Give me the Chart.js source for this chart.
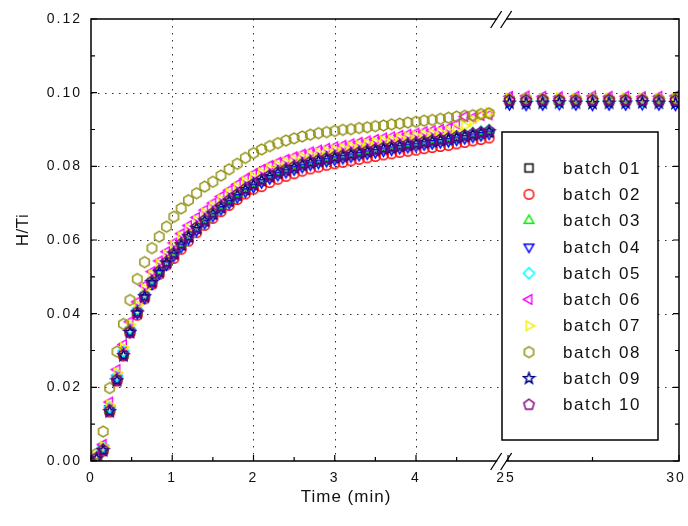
<!DOCTYPE html>
<html>
<head>
<meta charset="utf-8">
<script src="https://cdn.jsdelivr.net/npm/chart.js@4.4.1/dist/chart.umd.min.js"></script>
<style>
  html, body { margin: 0; padding: 0; background: #fff; }
  #wrap { width: 688px; height: 526px; }
</style>
</head>
<body>
<div id="wrap"><canvas id="chart" width="688" height="526"></canvas></div>
<script>
// time points (min)
const timesLeft = [0.07, 0.15, 0.23, 0.32, 0.40, 0.48, 0.57, 0.66, 0.75, 0.84, 0.93, 1.02, 1.11, 1.20, 1.30, 1.40, 1.50,
  1.60, 1.70, 1.80, 1.90, 2.00, 2.10, 2.20, 2.30, 2.40, 2.50, 2.60, 2.70, 2.80, 2.90, 3.00, 3.10, 3.20, 3.30, 3.40,
  3.50, 3.60, 3.70, 3.80, 3.90, 4.00, 4.10, 4.20, 4.30, 4.40, 4.50, 4.60, 4.70, 4.80, 4.90];
const timesRight = [25.1, 25.58, 26.06, 26.54, 27.02, 27.5, 27.98, 28.46, 28.94, 29.42, 29.9];

// H/Ti values, left part of the axis (0 - 5 min)
const b01Left = [0.0007, 0.0031, 0.0138, 0.0222, 0.0290, 0.0352, 0.0404, 0.0447, 0.0485, 0.0513, 0.0537, 0.0561, 0.0585, 0.0607, 0.0630, 0.0650, 0.0669, 0.0687, 0.0704, 0.0720, 0.0735, 0.0748, 0.0760, 0.0771, 0.0780, 0.0788, 0.0795, 0.0802, 0.0808, 0.0813, 0.0818, 0.0822, 0.0826, 0.0830, 0.0834, 0.0838, 0.0842, 0.0846, 0.0849, 0.0853, 0.0856, 0.0859, 0.0863, 0.0866, 0.0869, 0.0872, 0.0876, 0.0880, 0.0884, 0.0888, 0.0892];
const b02Left = [0.0005, 0.0027, 0.0133, 0.0217, 0.0285, 0.0348, 0.0396, 0.0440, 0.0479, 0.0507, 0.0532, 0.0550, 0.0575, 0.0597, 0.0620, 0.0640, 0.0659, 0.0677, 0.0694, 0.0710, 0.0725, 0.0738, 0.0745, 0.0756, 0.0765, 0.0773, 0.0780, 0.0787, 0.0793, 0.0798, 0.0803, 0.0807, 0.0811, 0.0815, 0.0819, 0.0823, 0.0827, 0.0831, 0.0834, 0.0838, 0.0841, 0.0844, 0.0848, 0.0851, 0.0854, 0.0857, 0.0861, 0.0865, 0.0869, 0.0873, 0.0877];
const b03Left = [0.0009, 0.0033, 0.0140, 0.0224, 0.0292, 0.0354, 0.0407, 0.0451, 0.0490, 0.0518, 0.0543, 0.0567, 0.0591, 0.0613, 0.0636, 0.0656, 0.0675, 0.0693, 0.0710, 0.0726, 0.0741, 0.0754, 0.0766, 0.0777, 0.0786, 0.0794, 0.0801, 0.0808, 0.0814, 0.0819, 0.0824, 0.0828, 0.0832, 0.0836, 0.0840, 0.0844, 0.0848, 0.0852, 0.0855, 0.0859, 0.0862, 0.0865, 0.0869, 0.0872, 0.0875, 0.0878, 0.0882, 0.0886, 0.0890, 0.0894, 0.0898];
const b04Left = [0.0010, 0.0035, 0.0142, 0.0225, 0.0291, 0.0350, 0.0401, 0.0443, 0.0481, 0.0509, 0.0533, 0.0557, 0.0581, 0.0603, 0.0626, 0.0646, 0.0665, 0.0683, 0.0700, 0.0716, 0.0731, 0.0744, 0.0756, 0.0767, 0.0776, 0.0784, 0.0791, 0.0798, 0.0804, 0.0809, 0.0814, 0.0818, 0.0822, 0.0826, 0.0830, 0.0834, 0.0838, 0.0842, 0.0845, 0.0849, 0.0852, 0.0855, 0.0859, 0.0862, 0.0865, 0.0868, 0.0872, 0.0876, 0.0880, 0.0884, 0.0888];
const b05Left = [0.0011, 0.0038, 0.0145, 0.0230, 0.0297, 0.0358, 0.0410, 0.0452, 0.0490, 0.0518, 0.0542, 0.0566, 0.0590, 0.0612, 0.0635, 0.0655, 0.0674, 0.0692, 0.0709, 0.0725, 0.0740, 0.0753, 0.0765, 0.0776, 0.0785, 0.0793, 0.0800, 0.0807, 0.0813, 0.0818, 0.0823, 0.0827, 0.0831, 0.0835, 0.0839, 0.0843, 0.0847, 0.0851, 0.0854, 0.0858, 0.0861, 0.0864, 0.0868, 0.0871, 0.0874, 0.0877, 0.0881, 0.0885, 0.0889, 0.0893, 0.0897];
const b06Left = [0.0012, 0.0045, 0.0160, 0.0248, 0.0316, 0.0378, 0.0432, 0.0476, 0.0514, 0.0543, 0.0568, 0.0592, 0.0617, 0.0639, 0.0661, 0.0681, 0.0700, 0.0718, 0.0735, 0.0751, 0.0766, 0.0779, 0.0791, 0.0802, 0.0811, 0.0819, 0.0826, 0.0833, 0.0839, 0.0844, 0.0849, 0.0853, 0.0857, 0.0861, 0.0865, 0.0869, 0.0873, 0.0877, 0.0880, 0.0884, 0.0887, 0.0890, 0.0894, 0.0897, 0.0900, 0.0904, 0.0915, 0.0935, 0.0932, 0.0938, 0.0940];
const b07Left = [0.0010, 0.0040, 0.0152, 0.0240, 0.0308, 0.0370, 0.0424, 0.0468, 0.0506, 0.0535, 0.0560, 0.0584, 0.0609, 0.0631, 0.0653, 0.0673, 0.0692, 0.0710, 0.0727, 0.0743, 0.0758, 0.0771, 0.0783, 0.0794, 0.0803, 0.0811, 0.0818, 0.0825, 0.0831, 0.0836, 0.0841, 0.0845, 0.0849, 0.0853, 0.0857, 0.0861, 0.0865, 0.0869, 0.0872, 0.0876, 0.0879, 0.0882, 0.0886, 0.0889, 0.0892, 0.0896, 0.0902, 0.0910, 0.0925, 0.0940, 0.0946];
const b08Left = [0.0020, 0.0080, 0.0198, 0.0297, 0.0372, 0.0437, 0.0494, 0.0540, 0.0578, 0.0609, 0.0636, 0.0663, 0.0686, 0.0708, 0.0727, 0.0745, 0.0758, 0.0775, 0.0792, 0.0807, 0.0823, 0.0836, 0.0846, 0.0855, 0.0863, 0.0870, 0.0876, 0.0881, 0.0886, 0.0890, 0.0893, 0.0896, 0.0899, 0.0901, 0.0904, 0.0906, 0.0909, 0.0911, 0.0914, 0.0916, 0.0919, 0.0921, 0.0924, 0.0926, 0.0929, 0.0932, 0.0935, 0.0937, 0.0939, 0.0942, 0.0944];
const b09Left = [0.0006, 0.0028, 0.0134, 0.0218, 0.0286, 0.0349, 0.0402, 0.0446, 0.0485, 0.0513, 0.0538, 0.0562, 0.0587, 0.0609, 0.0632, 0.0652, 0.0671, 0.0689, 0.0706, 0.0722, 0.0737, 0.0750, 0.0762, 0.0773, 0.0782, 0.0790, 0.0797, 0.0804, 0.0810, 0.0815, 0.0820, 0.0824, 0.0828, 0.0832, 0.0836, 0.0840, 0.0844, 0.0848, 0.0851, 0.0855, 0.0858, 0.0861, 0.0865, 0.0868, 0.0871, 0.0874, 0.0878, 0.0882, 0.0886, 0.0890, 0.0894];
const b10Left = [0.0008, 0.0030, 0.0136, 0.0220, 0.0288, 0.0351, 0.0404, 0.0448, 0.0487, 0.0515, 0.0540, 0.0564, 0.0589, 0.0611, 0.0634, 0.0654, 0.0673, 0.0691, 0.0708, 0.0724, 0.0739, 0.0752, 0.0764, 0.0775, 0.0784, 0.0792, 0.0799, 0.0806, 0.0812, 0.0817, 0.0822, 0.0826, 0.0830, 0.0834, 0.0838, 0.0842, 0.0846, 0.0850, 0.0853, 0.0857, 0.0860, 0.0863, 0.0867, 0.0870, 0.0873, 0.0876, 0.0880, 0.0884, 0.0888, 0.0892, 0.0896];

// H/Ti values, right part of the axis (25 - 30 min)
const b01Right = [0.0978, 0.0977, 0.0978, 0.0979, 0.0978, 0.0977, 0.0978, 0.0978, 0.0979, 0.0978, 0.0977];
const b02Right = [0.0976, 0.0975, 0.0976, 0.0976, 0.0977, 0.0976, 0.0975, 0.0976, 0.0976, 0.0977, 0.0976];
const b03Right = [0.0979, 0.0980, 0.0979, 0.0978, 0.0979, 0.0980, 0.0979, 0.0979, 0.0978, 0.0979, 0.0980];
const b04Right = [0.0968, 0.0967, 0.0968, 0.0969, 0.0968, 0.0967, 0.0968, 0.0968, 0.0969, 0.0968, 0.0967];
const b05Right = [0.0977, 0.0978, 0.0977, 0.0976, 0.0977, 0.0978, 0.0977, 0.0977, 0.0976, 0.0977, 0.0978];
const b06Right = [0.0990, 0.0991, 0.0990, 0.0989, 0.0990, 0.0991, 0.0990, 0.0990, 0.0989, 0.0990, 0.0991];
const b07Right = [0.0985, 0.0984, 0.0985, 0.0986, 0.0985, 0.0984, 0.0985, 0.0985, 0.0986, 0.0985, 0.0984];
const b08Right = [0.0982, 0.0983, 0.0982, 0.0981, 0.0982, 0.0983, 0.0982, 0.0982, 0.0981, 0.0982, 0.0983];
const b09Right = [0.0972, 0.0971, 0.0972, 0.0973, 0.0972, 0.0971, 0.0972, 0.0972, 0.0973, 0.0972, 0.0971];
const b10Right = [0.0979, 0.0979, 0.0980, 0.0979, 0.0978, 0.0979, 0.0980, 0.0979, 0.0979, 0.0978, 0.0979];

const seriesNames = ['batch 01', 'batch 02', 'batch 03', 'batch 04', 'batch 05', 'batch 06', 'batch 07', 'batch 08', 'batch 09', 'batch 10'];
const seriesColors = ['#000000', '#ff0000', '#00ee00', '#0000ff', '#00ffff', '#ff00ff', '#f0f000', '#8f8f10', '#000080', '#800080'];
const seriesShapes = ['square', 'circle', 'triUp', 'triDown', 'diamond', 'triLeft', 'triRight', 'hexagon', 'star', 'pentagon'];
const leftValues = [b01Left, b02Left, b03Left, b04Left, b05Left, b06Left, b07Left, b08Left, b09Left, b10Left];
const rightValues = [b01Right, b02Right, b03Right, b04Right, b05Right, b06Right, b07Right, b08Right, b09Right, b10Right];

// axis ticks
const xTickValues = [0, 1, 2, 3, 4, 25, 30];
const xTickLabels = ['0', '1', '2', '3', '4', '25', '30 '];
const xMinorTicks = [0.5, 1.5, 2.5, 3.5, 4.5, 27.5];
const xGridValues = [1, 2, 3, 4];
const yTickValues = [0, 0.02, 0.04, 0.06, 0.08, 0.10, 0.12];
const yTickLabels = ['0.00', '0.02', '0.04', '0.06', '0.08', '0.10', '0.12'];
const yMinorTicks = [0.01, 0.03, 0.05, 0.07, 0.09, 0.11];
const yGridValues = [0.02, 0.04, 0.06, 0.08, 0.10];

// broken x axis: 0..5 at full scale, 25..30 compressed after a small gap
const BREAK_LO = 5, BREAK_HI = 25, GAP = 0.108, RIGHT_K = 0.4258;
function toAxis(t) {
  return t <= BREAK_LO ? t : BREAK_LO + GAP + (t - BREAK_HI) * RIGHT_K;
}

function makeMarker(shape, color) {
  const c = document.createElement('canvas');
  c.width = 15; c.height = 15;
  const g = c.getContext('2d');
  g.strokeStyle = color;
  g.lineWidth = 1.45;
  const cx = 7.5, cy = 7.5;
  const poly = (n, r, start) => {
    g.beginPath();
    for (let k = 0; k < n; k++) {
      const a = (start + k * 360 / n) * Math.PI / 180;
      const px = cx + r * Math.cos(a), py = cy + r * Math.sin(a);
      k ? g.lineTo(px, py) : g.moveTo(px, py);
    }
    g.closePath();
    g.stroke();
  };
  if (shape === 'square') g.strokeRect(cx - 4, cy - 4, 8, 8);
  else if (shape === 'circle') { g.beginPath(); g.arc(cx, cy, 4.8, 0, Math.PI * 2); g.stroke(); }
  else if (shape === 'triUp') poly(3, 5.6, -90);
  else if (shape === 'triDown') poly(3, 5.6, 90);
  else if (shape === 'triLeft') poly(3, 5.6, 180);
  else if (shape === 'triRight') poly(3, 5.6, 0);
  else if (shape === 'diamond') poly(4, 5.6, 0);
  else if (shape === 'hexagon') poly(6, 5.4, -90);
  else if (shape === 'pentagon') poly(5, 5.5, -90);
  else if (shape === 'star') {
    g.beginPath();
    for (let k = 0; k < 10; k++) {
      const r = k % 2 ? 2.4 : 5.8;
      const a = (-90 + k * 36) * Math.PI / 180;
      const px = cx + r * Math.cos(a), py = cy + r * Math.sin(a);
      k ? g.lineTo(px, py) : g.moveTo(px, py);
    }
    g.closePath();
    g.stroke();
  }
  return c;
}

const markers = seriesShapes.map((s, i) => makeMarker(s, seriesColors[i]));

const datasets = seriesNames.map((name, i) => ({
  label: name,
  data: timesLeft.map((t, j) => ({ x: toAxis(t), y: leftValues[i][j] }))
    .concat(timesRight.map((t, j) => ({ x: toAxis(t), y: rightValues[i][j] }))),
  pointStyle: markers[i],
  pointRadius: 5,
  showLine: false,
  order: seriesNames.length - i
}));

const FONT = '"Liberation Sans", Arial, sans-serif';

const framePlugin = {
  id: 'frame',
  beforeDraw(chart) {
    chart.ctx.letterSpacing = '2px';
  },
  beforeDatasetsDraw(chart) {
    const { ctx, chartArea: a, scales: { x, y } } = chart;
    ctx.save();
    ctx.letterSpacing = '0px';
    ctx.strokeStyle = '#333';
    ctx.lineWidth = 1;
    ctx.setLineDash([1.5, 5.5]);
    ctx.beginPath();
    xGridValues.forEach(v => {
      const px = Math.round(x.getPixelForValue(toAxis(v))) + 0.5;
      ctx.moveTo(px, a.top);
      ctx.lineTo(px, a.bottom);
    });
    yGridValues.forEach(v => {
      const py = Math.round(y.getPixelForValue(v)) + 0.5;
      ctx.moveTo(a.left, py);
      ctx.lineTo(a.right, py);
    });
    ctx.stroke();
    ctx.restore();
  },
  afterDatasetsDraw(chart) {
    const { ctx, chartArea: a, scales: { x, y } } = chart;
    ctx.save();
    ctx.letterSpacing = '0px';
    ctx.strokeStyle = '#000';
    ctx.lineWidth = 1.5;
    const bl = x.getPixelForValue(toAxis(BREAK_LO));
    const bh = x.getPixelForValue(toAxis(BREAK_HI));

    // frame with gap at the break
    ctx.beginPath();
    ctx.moveTo(bl, a.top); ctx.lineTo(a.left, a.top); ctx.lineTo(a.left, a.bottom); ctx.lineTo(bl, a.bottom);
    ctx.moveTo(bh, a.top); ctx.lineTo(a.right, a.top); ctx.lineTo(a.right, a.bottom); ctx.lineTo(bh, a.bottom);
    ctx.stroke();

    // inward ticks
    ctx.lineWidth = 1.2;
    ctx.beginPath();
    yTickValues.forEach(v => {
      const py = y.getPixelForValue(v);
      ctx.moveTo(a.left, py); ctx.lineTo(a.left + 6, py);
      ctx.moveTo(a.right, py); ctx.lineTo(a.right - 6, py);
    });
    yMinorTicks.forEach(v => {
      const py = y.getPixelForValue(v);
      ctx.moveTo(a.left, py); ctx.lineTo(a.left + 4, py);
      ctx.moveTo(a.right, py); ctx.lineTo(a.right - 4, py);
    });
    xTickValues.forEach(v => {
      const px = x.getPixelForValue(toAxis(v)) + (v === BREAK_HI ? 2 : 0);
      ctx.moveTo(px, a.bottom); ctx.lineTo(px, a.bottom - 6);
    });
    xMinorTicks.forEach(v => {
      const px = x.getPixelForValue(toAxis(v));
      ctx.moveTo(px, a.bottom); ctx.lineTo(px, a.bottom - 4);
    });
    ctx.stroke();

    // break marks
    const bm = (bl + bh) / 2;
    ctx.lineWidth = 1.3;
    ctx.beginPath();
    [a.top, a.bottom].forEach(yy => {
      ctx.moveTo(bm - 11, yy + 9); ctx.lineTo(bm, yy - 8);
      ctx.moveTo(bm - 1, yy + 9); ctx.lineTo(bm + 10, yy - 8);
    });
    ctx.stroke();

    // legend box
    const lx = 502, ly = 132, lw = 156, lh = 308;
    ctx.fillStyle = '#fff';
    ctx.fillRect(lx, ly, lw, lh);
    ctx.lineWidth = 1.5;
    ctx.strokeRect(lx, ly, lw, lh);
    ctx.font = '17px ' + FONT;
    ctx.letterSpacing = '1.6px';
    ctx.fillStyle = '#111';
    ctx.textBaseline = 'middle';
    ctx.textAlign = 'left';
    seriesNames.forEach((n, i) => {
      const yy = 168 + i * 26.3;
      ctx.drawImage(markers[i], 529 - 7.5, yy - 7.5);
      ctx.fillText(n, 563, yy + 1);
    });

    // axis titles
    ctx.letterSpacing = '1px';
    ctx.textAlign = 'center';
    ctx.fillText('Time (min)', 346, 497);
    ctx.translate(23, 230);
    ctx.rotate(-Math.PI / 2);
    ctx.letterSpacing = '0.5px';
    ctx.fillText('H/Ti', 0, 0);
    ctx.restore();
  }
};

new Chart(document.getElementById('chart'), {
  type: 'scatter',
  data: { datasets },
  options: {
    responsive: false,
    animation: false,
    events: [],
    layout: { padding: { left: 0, top: 19, right: 9, bottom: 0 } },
    plugins: { legend: { display: false }, tooltip: { enabled: false } },
    scales: {
      x: {
        type: 'linear',
        min: 0,
        max: toAxis(30),
        grid: { display: false, drawTicks: false },
        border: { display: false },
        afterBuildTicks: s => { s.ticks = xTickValues.map(v => ({ value: toAxis(v) })); },
        afterFit: s => { s.height = 65; s.paddingLeft = 0; s.paddingRight = 0; },
        ticks: {
          autoSkip: false,
          maxRotation: 0,
          padding: 9,
          color: '#111',
          font: { family: FONT, size: 14 },
          callback: (v, i) => xTickLabels[i]
        }
      },
      y: {
        min: 0,
        max: 0.12,
        grid: { display: false, drawTicks: false },
        border: { display: false },
        afterBuildTicks: s => { s.ticks = yTickValues.map(v => ({ value: v })); },
        afterFit: s => { s.width = 91; s.paddingTop = 0; s.paddingBottom = 0; },
        ticks: {
          padding: 9,
          color: '#111',
          font: { family: FONT, size: 14 },
          callback: (v, i) => yTickLabels[i]
        }
      }
    }
  },
  plugins: [framePlugin]
});
</script>
</body>
</html>
